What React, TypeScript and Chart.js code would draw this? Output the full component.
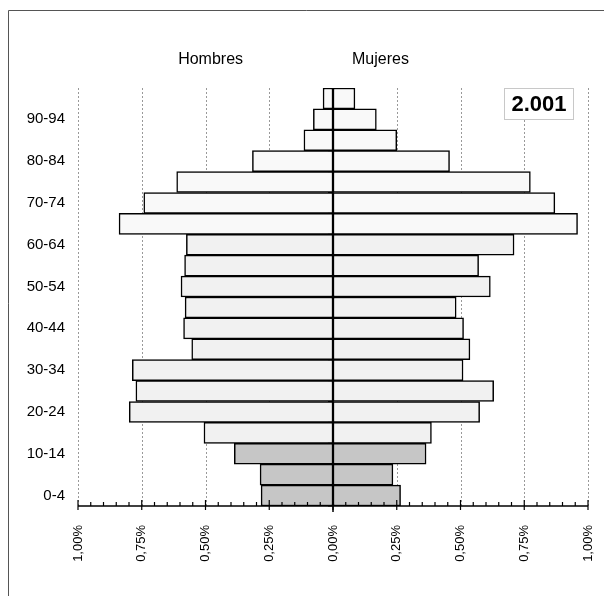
import React, { useEffect, useRef } from "react";
import { Chart, registerables } from "chart.js";

Chart.register(...registerables);

const ageGroups = ["0-4", "5-9", "10-14", "15-19", "20-24", "25-29", "30-34", "35-39", "40-44", "45-49", "50-54", "55-59", "60-64", "65-69", "70-74", "75-79", "80-84", "85-89", "90-94", "95+"];
const menPct = [0.282, 0.286, 0.387, 0.506, 0.799, 0.773, 0.787, 0.554, 0.586, 0.580, 0.596, 0.582, 0.575, 0.839, 0.742, 0.613, 0.316, 0.114, 0.077, 0.039];
const womenPct = [0.265, 0.235, 0.365, 0.386, 0.575, 0.630, 0.510, 0.537, 0.512, 0.483, 0.617, 0.571, 0.710, 0.959, 0.870, 0.774, 0.457, 0.250, 0.170, 0.086];
const xTickValues = [-1, -0.75, -0.5, -0.25, 0, 0.25, 0.5, 0.75, 1];
const leftTitle = "Hombres";
const rightTitle = "Mujeres";
const yearLabel = "2.001";

const FONT = "'Liberation Sans', Arial, sans-serif";

function barColor(i: number) {
  if (i <= 2) return "#c6c6c6";
  if (i <= 12) return "#f1f1f1";
  return "#f9f9f9";
}

const decorPlugin = {
  id: "decor",
  beforeDatasetsDraw(chart: any) {
    const { ctx, chartArea, scales } = chart;
    const x = scales.x;
    ctx.save();
    // frame
    ctx.strokeStyle = "#555";
    ctx.lineWidth = 1;
    ctx.beginPath();
    ctx.moveTo(8.5, 700);
    ctx.lineTo(8.5, 10.5);
    ctx.lineTo(700, 10.5);
    ctx.stroke();
    // dashed grid
    ctx.strokeStyle = "#999";
    ctx.setLineDash([2, 2]);
    ctx.lineWidth = 1;
    xTickValues.forEach((v) => {
      if (v === 0) return;
      const px = Math.round(x.getPixelForValue(v)) + 0.5;
      ctx.beginPath();
      ctx.moveTo(px, chartArea.top);
      ctx.lineTo(px, chartArea.bottom);
      ctx.stroke();
    });
    ctx.restore();
  },
  afterDatasetsDraw(chart: any) {
    const { ctx, chartArea, scales } = chart;
    const x = scales.x;
    const y = scales.y;
    const bottom = chartArea.bottom;
    ctx.save();
    ctx.strokeStyle = "#000";
    ctx.lineWidth = 1.5;
    // axis line
    ctx.beginPath();
    ctx.moveTo(x.getPixelForValue(-1), bottom);
    ctx.lineTo(x.getPixelForValue(1), bottom);
    ctx.stroke();
    // minor ticks
    ctx.lineWidth = 1.2;
    for (let k = -20; k <= 20; k++) {
      const v = k * 0.05;
      const px = x.getPixelForValue(v);
      ctx.beginPath();
      if (k % 5 === 0) {
        ctx.moveTo(px, bottom - 6);
        ctx.lineTo(px, bottom + 4);
      } else {
        ctx.moveTo(px, bottom - 4);
        ctx.lineTo(px, bottom);
      }
      ctx.stroke();
    }
    // zero line
    const zx = x.getPixelForValue(0);
    ctx.lineWidth = 1.5;
    ctx.beginPath();
    ctx.moveTo(zx, chartArea.top);
    ctx.lineTo(zx, bottom + 6);
    ctx.stroke();
    // center axis ticks at category boundaries
    ctx.lineWidth = 1;
    for (let i = 0; i < ageGroups.length; i++) {
      const py = y.getPixelForValue(i) + (y.getPixelForValue(0) - y.getPixelForValue(1)) / 2;
      ctx.beginPath();
      ctx.moveTo(zx - 5, py);
      ctx.lineTo(zx, py);
      ctx.stroke();
    }
    // titles
    ctx.fillStyle = "#000";
    ctx.font = `16px ${FONT}`;
    ctx.textAlign = "center";
    ctx.textBaseline = "alphabetic";
    ctx.fillText(leftTitle, x.getPixelForValue(-0.48), 64);
    ctx.fillText(rightTitle, x.getPixelForValue(0.186), 64);
    // year box
    const bx = 504.5, by = 88.5, bw = 69, bh = 31;
    ctx.fillStyle = "#fff";
    ctx.fillRect(bx, by, bw, bh);
    ctx.strokeStyle = "#c8c8c8";
    ctx.lineWidth = 1;
    ctx.strokeRect(bx, by, bw, bh);
    ctx.fillStyle = "#000";
    ctx.font = `bold 22px ${FONT}`;
    ctx.textBaseline = "middle";
    ctx.fillText(yearLabel, bx + bw / 2, by + bh / 2 + 1);
    ctx.restore();
  },
};

export default function App() {
  const ref = useRef<HTMLCanvasElement | null>(null);
  useEffect(() => {
    if (!ref.current) return;
    const colors = ageGroups.map((_, i) => barColor(i));
    const chart = new Chart(ref.current, {
      type: "bar",
      data: {
        labels: ageGroups,
        datasets: [
          {
            label: leftTitle,
            data: menPct.map((v) => -v),
            backgroundColor: colors,
            borderColor: "#000",
            borderWidth: 1.5,
            borderSkipped: false,
            categoryPercentage: 1,
            barPercentage: 1,
          },
          {
            label: rightTitle,
            data: womenPct,
            backgroundColor: colors,
            borderColor: "#000",
            borderWidth: 1.5,
            borderSkipped: false,
            categoryPercentage: 1,
            barPercentage: 1,
          },
        ],
      },
      options: {
        indexAxis: "y",
        responsive: false,
        animation: false,
        devicePixelRatio: 1,
        layout: { padding: { left: 8, right: 16, top: 88, bottom: 0 } },
        plugins: { legend: { display: false }, tooltip: { enabled: false } },
        scales: {
          x: {
            type: "linear",
            stacked: true,
            min: -1,
            max: 1,
            afterFit: (s: any) => { s.height = 90; s.paddingLeft = 0; s.paddingRight = 0; },
            afterBuildTicks: (s: any) => { s.ticks = xTickValues.map((v) => ({ value: v })); },
            grid: { display: false, drawTicks: false },
            border: { display: false },
            ticks: {
              minRotation: 90,
              maxRotation: 90,
              padding: 19,
              color: "#000",
              font: { family: FONT, size: 13 },
              callback: (v: any) => Math.abs(Number(v)).toFixed(2).replace(".", ",") + "%",
            },
          },
          y: {
            type: "category",
            stacked: true,
            reverse: true,
            afterFit: (s: any) => { s.width = 70; s.paddingTop = 0; s.paddingBottom = 0; },
            grid: { display: false, drawTicks: false },
            border: { display: false },
            ticks: {
              autoSkip: false,
              padding: 13,
              color: "#000",
              font: { family: FONT, size: 15 },
              callback: (_v: any, i: number) => (i % 2 === 0 ? ageGroups[i] : ""),
            },
          },
        },
      },
      plugins: [decorPlugin],
    });
    return () => chart.destroy();
  }, []);
  return (
    <canvas
      ref={ref}
      width={604}
      height={596}
      style={{ position: "fixed", left: 0, top: 0, width: 604, height: 596, background: "#fff" }}
    />
  );
}
